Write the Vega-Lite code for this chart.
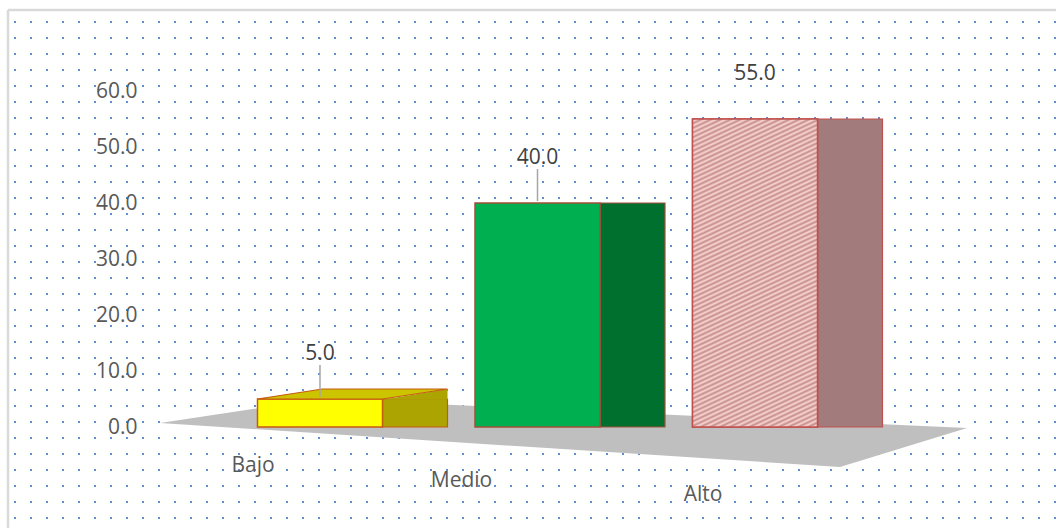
{
  "$schema": "https://vega.github.io/schema/vega-lite/v6.json",
  "width": 1048,
  "height": 518,
  "autosize": {"type": "none"},
  "padding": {"left": 8, "top": 10, "right": 0, "bottom": 0},
  "background": "#ffffff",
  "config": {"view": {"stroke": null}, "font": "Open Sans"},
  "data": {"values": [
    {"nivel": "Bajo", "porcentaje": 5},
    {"nivel": "Medio", "porcentaje": 40},
    {"nivel": "Alto", "porcentaje": 55}
  ]},
  "layer": [
    {
      "mark": {"type": "point", "opacity": 0},
      "encoding": {
        "x": {"datum": 0, "type": "quantitative",
          "scale": {"domain": [0, 1048], "range": [0, 1048]},
          "axis": {"orient": "top", "translate": 0, "domain": true, "domainColor": "#d9d9d9", "domainWidth": 2.5, "labels": false, "ticks": false, "grid": false, "title": null}},
        "y": {"datum": 0, "type": "quantitative",
          "scale": {"domain": [0, 518], "range": [0, 518]},
          "axis": {"orient": "left", "translate": 0, "domain": true, "domainColor": "#d9d9d9", "domainWidth": 2.5, "labels": false, "ticks": false, "title": null,
            "grid": true, "gridColor": "#5d8ed8", "gridWidth": 2, "gridDash": [2, 14], "gridDashOffset": 10, "gridOpacity": 1,
            "values": [12,28,44,60,76,92,108,124,140,156,172,188,204,220,236,252,268,284,300,316,332,348,364,380,396,412,428,444,460,476,492,508]}}
      }
    },
    {
      "encoding": {
        "x": {"field": "nivel", "type": "nominal", "sort": ["Bajo", "Medio", "Alto"],
          "scale": {"type": "band", "range": [203.25, 855.75], "paddingInner": 0.4253, "paddingOuter": 0.2126},
          "axis": {"orient": "bottom", "offset": -88, "domain": false, "ticks": false, "tickSize": 0, "grid": false, "title": null,
            "labelAngle": 0, "labelBaseline": "middle", "labelFont": "Open Sans", "labelFontSize": 21, "labelColor": "#595959",
            "labelPadding": {"condition": [{"test": "datum.value === 'Bajo'", "value": 25}, {"test": "datum.value === 'Medio'", "value": 40}], "value": 54},
            "labelOffset": {"condition": [{"test": "datum.value === 'Bajo'", "value": -67}, {"test": "datum.value === 'Medio'", "value": -76}], "value": -52}}},
        "y": {"field": "porcentaje", "type": "quantitative",
          "scale": {"domain": [0, 60], "range": [417, 81], "nice": false, "zero": true},
          "axis": {"orient": "left", "offset": -132, "domain": false, "ticks": false, "tickSize": 0, "grid": false, "title": null,
            "values": [0, 10, 20, 30, 40, 50, 60], "format": ".1f", "labelPadding": 3,
            "labelFont": "Open Sans", "labelFontSize": 21, "labelColor": "#595959"}}
      },
      "layer": [
        {
          "transform": [{"filter": "datum.nivel === 'Medio'"}],
          "mark": {"type": "point", "shape": "M -377.5 -4 L -217.5 -28 L 429.5 1 L 302.5 40 Z", "size": 4, "filled": true, "fill": "#bfbfbf", "opacity": 1, "strokeWidth": 0},
          "encoding": {"y": {"datum": 0, "type": "quantitative"}}
        },
        {
          "mark": {"type": "bar", "width": 65, "xOffset": 95, "y2Offset": -6, "strokeWidth": 1.2},
          "encoding": {
            "fill": {"field": "nivel", "type": "nominal", "scale": {"domain": ["Bajo", "Medio", "Alto"], "range": ["#aca400", "#00702e", "#a27c7c"]}, "legend": null},
            "stroke": {"field": "nivel", "type": "nominal", "scale": {"domain": ["Bajo", "Medio", "Alto"], "range": ["#c55a11", "#a34f3a", "#c0504d"]}, "legend": null}
          }
        },
        {
          "mark": {"type": "bar", "width": 125, "strokeWidth": 1.5},
          "encoding": {
            "fill": {"field": "nivel", "type": "nominal", "scale": {"domain": ["Bajo", "Medio", "Alto"], "range": ["#ffff00", "#00b050", "#e4b5b2"]}, "legend": null},
            "stroke": {"field": "nivel", "type": "nominal", "scale": {"domain": ["Bajo", "Medio", "Alto"], "range": ["#c55a11", "#a34f3a", "#c0504d"]}, "legend": null}
          }
        },
        {
          "transform": [{"filter": "datum.nivel === 'Alto'"}],
          "mark": {"type": "bar", "width": 125, "strokeWidth": 1.5, "stroke": "#c0504d",
            "fill": {"gradient": "linear", "x1": 0, "y1": 0, "x2": 0.2184, "y2": 1.149, "stops": [
              {"offset": 0, "color": "#c68c8a"}, {"offset": 0.00625, "color": "#f8d6d2"}, {"offset": 0.0125, "color": "#c68c8a"}, {"offset": 0.01875, "color": "#f8d6d2"}, {"offset": 0.025, "color": "#c68c8a"}, {"offset": 0.03125, "color": "#f8d6d2"}, {"offset": 0.0375, "color": "#c68c8a"}, {"offset": 0.04375, "color": "#f8d6d2"},
              {"offset": 0.05, "color": "#c68c8a"}, {"offset": 0.05625, "color": "#f8d6d2"}, {"offset": 0.0625, "color": "#c68c8a"}, {"offset": 0.06875, "color": "#f8d6d2"}, {"offset": 0.075, "color": "#c68c8a"}, {"offset": 0.08125, "color": "#f8d6d2"}, {"offset": 0.0875, "color": "#c68c8a"}, {"offset": 0.09375, "color": "#f8d6d2"},
              {"offset": 0.1, "color": "#c68c8a"}, {"offset": 0.10625, "color": "#f8d6d2"}, {"offset": 0.1125, "color": "#c68c8a"}, {"offset": 0.11875, "color": "#f8d6d2"}, {"offset": 0.125, "color": "#c68c8a"}, {"offset": 0.13125, "color": "#f8d6d2"}, {"offset": 0.1375, "color": "#c68c8a"}, {"offset": 0.14375, "color": "#f8d6d2"},
              {"offset": 0.15, "color": "#c68c8a"}, {"offset": 0.15625, "color": "#f8d6d2"}, {"offset": 0.1625, "color": "#c68c8a"}, {"offset": 0.16875, "color": "#f8d6d2"}, {"offset": 0.175, "color": "#c68c8a"}, {"offset": 0.18125, "color": "#f8d6d2"}, {"offset": 0.1875, "color": "#c68c8a"}, {"offset": 0.19375, "color": "#f8d6d2"},
              {"offset": 0.2, "color": "#c68c8a"}, {"offset": 0.20625, "color": "#f8d6d2"}, {"offset": 0.2125, "color": "#c68c8a"}, {"offset": 0.21875, "color": "#f8d6d2"}, {"offset": 0.225, "color": "#c68c8a"}, {"offset": 0.23125, "color": "#f8d6d2"}, {"offset": 0.2375, "color": "#c68c8a"}, {"offset": 0.24375, "color": "#f8d6d2"},
              {"offset": 0.25, "color": "#c68c8a"}, {"offset": 0.25625, "color": "#f8d6d2"}, {"offset": 0.2625, "color": "#c68c8a"}, {"offset": 0.26875, "color": "#f8d6d2"}, {"offset": 0.275, "color": "#c68c8a"}, {"offset": 0.28125, "color": "#f8d6d2"}, {"offset": 0.2875, "color": "#c68c8a"}, {"offset": 0.29375, "color": "#f8d6d2"},
              {"offset": 0.3, "color": "#c68c8a"}, {"offset": 0.30625, "color": "#f8d6d2"}, {"offset": 0.3125, "color": "#c68c8a"}, {"offset": 0.31875, "color": "#f8d6d2"}, {"offset": 0.325, "color": "#c68c8a"}, {"offset": 0.33125, "color": "#f8d6d2"}, {"offset": 0.3375, "color": "#c68c8a"}, {"offset": 0.34375, "color": "#f8d6d2"},
              {"offset": 0.35, "color": "#c68c8a"}, {"offset": 0.35625, "color": "#f8d6d2"}, {"offset": 0.3625, "color": "#c68c8a"}, {"offset": 0.36875, "color": "#f8d6d2"}, {"offset": 0.375, "color": "#c68c8a"}, {"offset": 0.38125, "color": "#f8d6d2"}, {"offset": 0.3875, "color": "#c68c8a"}, {"offset": 0.39375, "color": "#f8d6d2"},
              {"offset": 0.4, "color": "#c68c8a"}, {"offset": 0.40625, "color": "#f8d6d2"}, {"offset": 0.4125, "color": "#c68c8a"}, {"offset": 0.41875, "color": "#f8d6d2"}, {"offset": 0.425, "color": "#c68c8a"}, {"offset": 0.43125, "color": "#f8d6d2"}, {"offset": 0.4375, "color": "#c68c8a"}, {"offset": 0.44375, "color": "#f8d6d2"},
              {"offset": 0.45, "color": "#c68c8a"}, {"offset": 0.45625, "color": "#f8d6d2"}, {"offset": 0.4625, "color": "#c68c8a"}, {"offset": 0.46875, "color": "#f8d6d2"}, {"offset": 0.475, "color": "#c68c8a"}, {"offset": 0.48125, "color": "#f8d6d2"}, {"offset": 0.4875, "color": "#c68c8a"}, {"offset": 0.49375, "color": "#f8d6d2"},
              {"offset": 0.5, "color": "#c68c8a"}, {"offset": 0.50625, "color": "#f8d6d2"}, {"offset": 0.5125, "color": "#c68c8a"}, {"offset": 0.51875, "color": "#f8d6d2"}, {"offset": 0.525, "color": "#c68c8a"}, {"offset": 0.53125, "color": "#f8d6d2"}, {"offset": 0.5375, "color": "#c68c8a"}, {"offset": 0.54375, "color": "#f8d6d2"},
              {"offset": 0.55, "color": "#c68c8a"}, {"offset": 0.55625, "color": "#f8d6d2"}, {"offset": 0.5625, "color": "#c68c8a"}, {"offset": 0.56875, "color": "#f8d6d2"}, {"offset": 0.575, "color": "#c68c8a"}, {"offset": 0.58125, "color": "#f8d6d2"}, {"offset": 0.5875, "color": "#c68c8a"}, {"offset": 0.59375, "color": "#f8d6d2"},
              {"offset": 0.6, "color": "#c68c8a"}, {"offset": 0.60625, "color": "#f8d6d2"}, {"offset": 0.6125, "color": "#c68c8a"}, {"offset": 0.61875, "color": "#f8d6d2"}, {"offset": 0.625, "color": "#c68c8a"}, {"offset": 0.63125, "color": "#f8d6d2"}, {"offset": 0.6375, "color": "#c68c8a"}, {"offset": 0.64375, "color": "#f8d6d2"},
              {"offset": 0.65, "color": "#c68c8a"}, {"offset": 0.65625, "color": "#f8d6d2"}, {"offset": 0.6625, "color": "#c68c8a"}, {"offset": 0.66875, "color": "#f8d6d2"}, {"offset": 0.675, "color": "#c68c8a"}, {"offset": 0.68125, "color": "#f8d6d2"}, {"offset": 0.6875, "color": "#c68c8a"}, {"offset": 0.69375, "color": "#f8d6d2"},
              {"offset": 0.7, "color": "#c68c8a"}, {"offset": 0.70625, "color": "#f8d6d2"}, {"offset": 0.7125, "color": "#c68c8a"}, {"offset": 0.71875, "color": "#f8d6d2"}, {"offset": 0.725, "color": "#c68c8a"}, {"offset": 0.73125, "color": "#f8d6d2"}, {"offset": 0.7375, "color": "#c68c8a"}, {"offset": 0.74375, "color": "#f8d6d2"},
              {"offset": 0.75, "color": "#c68c8a"}, {"offset": 0.75625, "color": "#f8d6d2"}, {"offset": 0.7625, "color": "#c68c8a"}, {"offset": 0.76875, "color": "#f8d6d2"}, {"offset": 0.775, "color": "#c68c8a"}, {"offset": 0.78125, "color": "#f8d6d2"}, {"offset": 0.7875, "color": "#c68c8a"}, {"offset": 0.79375, "color": "#f8d6d2"},
              {"offset": 0.8, "color": "#c68c8a"}, {"offset": 0.80625, "color": "#f8d6d2"}, {"offset": 0.8125, "color": "#c68c8a"}, {"offset": 0.81875, "color": "#f8d6d2"}, {"offset": 0.825, "color": "#c68c8a"}, {"offset": 0.83125, "color": "#f8d6d2"}, {"offset": 0.8375, "color": "#c68c8a"}, {"offset": 0.84375, "color": "#f8d6d2"},
              {"offset": 0.85, "color": "#c68c8a"}, {"offset": 0.85625, "color": "#f8d6d2"}, {"offset": 0.8625, "color": "#c68c8a"}, {"offset": 0.86875, "color": "#f8d6d2"}, {"offset": 0.875, "color": "#c68c8a"}, {"offset": 0.88125, "color": "#f8d6d2"}, {"offset": 0.8875, "color": "#c68c8a"}, {"offset": 0.89375, "color": "#f8d6d2"},
              {"offset": 0.9, "color": "#c68c8a"}, {"offset": 0.90625, "color": "#f8d6d2"}, {"offset": 0.9125, "color": "#c68c8a"}, {"offset": 0.91875, "color": "#f8d6d2"}, {"offset": 0.925, "color": "#c68c8a"}, {"offset": 0.93125, "color": "#f8d6d2"}, {"offset": 0.9375, "color": "#c68c8a"}, {"offset": 0.94375, "color": "#f8d6d2"},
              {"offset": 0.95, "color": "#c68c8a"}, {"offset": 0.95625, "color": "#f8d6d2"}, {"offset": 0.9625, "color": "#c68c8a"}, {"offset": 0.96875, "color": "#f8d6d2"}, {"offset": 0.975, "color": "#c68c8a"}, {"offset": 0.98125, "color": "#f8d6d2"}, {"offset": 0.9875, "color": "#c68c8a"}, {"offset": 0.99375, "color": "#f8d6d2"},
              {"offset": 1, "color": "#c68c8a"}
            ]}}
        },
        {
          "transform": [{"filter": "datum.nivel === 'Bajo'"}],
          "mark": {"type": "point", "shape": "M 62.5 0.8 L 127.5 -10 L 127.5 0.8 Z", "size": 4, "filled": true, "fill": "#aca400", "strokeWidth": 0, "opacity": 1}
        },
        {
          "transform": [{"filter": "datum.nivel === 'Bajo'"}],
          "mark": {"type": "point", "shape": "M -62.5 0 L 62.5 0 L 127.5 -10 L 2.5 -10 Z", "size": 4, "filled": true, "fill": "#cdc400", "stroke": "#c55a11", "strokeWidth": 1.2, "opacity": 1}
        },
        {
          "transform": [{"filter": "datum.nivel !== 'Alto'"}],
          "mark": {"type": "rule", "color": "#a6a6a6", "strokeWidth": 1.5, "yOffset": -34, "y2Offset": -2},
          "encoding": {"y2": {"field": "porcentaje"}}
        },
        {
          "mark": {"type": "text", "dy": -45, "font": "Open Sans", "fontSize": 21, "color": "#404040", "baseline": "middle"},
          "encoding": {"text": {"field": "porcentaje", "type": "quantitative", "format": ".1f"}}
        }
      ],
      "resolve": {"scale": {"fill": "independent"}}
    }
  ],
  "resolve": {"scale": {"x": "independent", "y": "independent"}}
}
